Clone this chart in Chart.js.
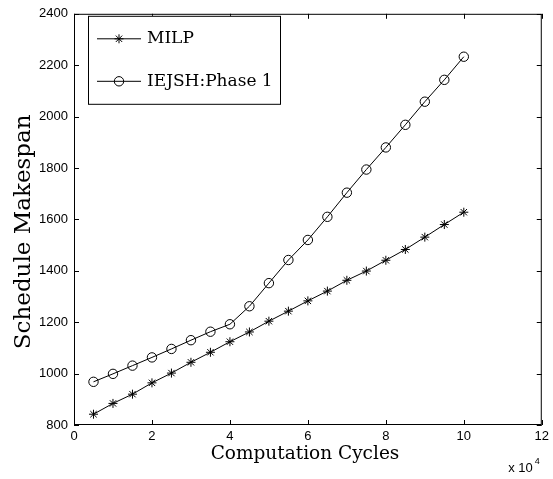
<!DOCTYPE html>
<html>
<head>
<meta charset="utf-8">
<title>Schedule Makespan vs Computation Cycles</title>
<script src="https://cdn.jsdelivr.net/npm/chart.js@4.4.0/dist/chart.umd.min.js"></script>
<style>
    html, body { margin: 0; padding: 0; background: #ffffff; }
    #wrap { width: 553px; height: 479px; }
</style>
</head>
<body>
<div id="wrap"><canvas id="chart" width="553" height="479"></canvas></div>
<script>
// Computation cycles, in units of 10^4
const cycles = [0.5, 1, 1.5, 2, 2.5, 3, 3.5, 4, 4.5, 5, 5.5, 6, 6.5, 7, 7.5, 8, 8.5, 9, 9.5, 10];
const milp = [842, 884, 920, 964, 1002, 1044, 1083, 1124, 1162, 1204, 1243, 1283, 1321, 1363, 1399, 1441, 1483, 1531, 1580, 1628];
const iejsh = [968, 999, 1031, 1063, 1096, 1130, 1163, 1192, 1262, 1352, 1442, 1520, 1610, 1704, 1794, 1880, 1968, 2058, 2143, 2233];
const xTicks = [0, 2, 4, 6, 8, 10, 12];
const yTicks = [800, 1000, 1200, 1400, 1600, 1800, 2000, 2200, 2400];

const SANS = '"Liberation Sans", Arial, sans-serif';
const SERIF = '"DejaVu Serif", serif';

function toPoints(xs, ys) {
    return xs.map((x, i) => ({ x: x, y: ys[i] }));
}

function drawMarker(ctx, style, radius, x, y) {
    ctx.fillStyle = 'rgba(0,0,0,0)';
    if (Chart.helpers && Chart.helpers.drawPoint) {
        Chart.helpers.drawPoint(ctx, { pointStyle: style, radius: radius, rotation: 0, borderWidth: 1 }, x, y);
        return;
    }
    ctx.beginPath();
    if (style === 'circle') {
        ctx.arc(x, y, radius, 0, Math.PI * 2);
    } else {
        for (let k = 0; k < 4; k++) {
            const a = k * Math.PI / 4;
            ctx.moveTo(x - Math.cos(a) * radius, y - Math.sin(a) * radius);
            ctx.lineTo(x + Math.cos(a) * radius, y + Math.sin(a) * radius);
        }
    }
    ctx.stroke();
}

// Box frame with inward ticks on all four sides, axis titles, legend and exponent label
const frameTicks = {
    id: 'frameTicks',
    afterDatasetsDraw(chart) {
        const { ctx, chartArea: a, scales: { x, y } } = chart;
        const len = 5;
        ctx.save();
        ctx.strokeStyle = '#000000';
        ctx.lineWidth = 1;
        ctx.strokeRect(a.left + 0.5, a.top + 0.5, a.right - a.left - 1, a.bottom - a.top - 1);

        ctx.beginPath();
        xTicks.forEach(v => {
            const px = Math.round(x.getPixelForValue(v)) + 0.5;
            ctx.moveTo(px, a.bottom);
            ctx.lineTo(px, a.bottom - len);
            ctx.moveTo(px, a.top);
            ctx.lineTo(px, a.top + len);
        });
        yTicks.forEach(v => {
            const py = Math.round(y.getPixelForValue(v)) + 0.5;
            ctx.moveTo(a.left, py);
            ctx.lineTo(a.left + len, py);
            ctx.moveTo(a.right, py);
            ctx.lineTo(a.right - len, py);
        });
        ctx.stroke();

        // axis titles
        ctx.fillStyle = '#000000';
        ctx.textAlign = 'center';
        ctx.textBaseline = 'middle';
        ctx.font = '18.5px ' + SERIF;
        ctx.fillText('Computation Cycles', a.left + 231, a.bottom + 29);
        ctx.save();
        ctx.translate(24, a.top + 218);
        ctx.rotate(-Math.PI / 2);
        ctx.font = '23px ' + SERIF;
        ctx.fillText('Schedule Makespan', 0, 0);
        ctx.restore();

        // exponent label under the x axis
        ctx.font = '13px ' + SANS;
        ctx.textAlign = 'right';
        ctx.fillText('x 10', a.right - 9, a.bottom + 43);
        ctx.font = '9px ' + SANS;
        ctx.textAlign = 'left';
        ctx.fillText('4', a.right - 7, a.bottom + 37);

        // legend
        const bx = a.left + 14, by = a.top + 2, bw = 192, bh = 88;
        ctx.fillStyle = '#ffffff';
        ctx.fillRect(bx, by, bw, bh);
        ctx.strokeRect(bx + 0.5, by + 0.5, bw, bh);
        chart.data.datasets.forEach((ds, i) => {
            const ly = by + 23 + i * 42.5;
            ctx.strokeStyle = '#000000';
            ctx.lineWidth = 1;
            ctx.beginPath();
            ctx.moveTo(bx + 9, ly);
            ctx.lineTo(bx + 53, ly);
            ctx.stroke();
            drawMarker(ctx, ds.pointStyle, ds.pointRadius, bx + 31, ly);
            ctx.fillStyle = '#000000';
            ctx.font = '17px ' + SERIF;
            ctx.textAlign = 'left';
            ctx.textBaseline = 'middle';
            ctx.fillText(ds.label, bx + 59, ly);
        });
        ctx.restore();
    }
};

const ctx = document.getElementById('chart').getContext('2d');
const chart = new Chart(ctx, {
    type: 'line',
    data: {
        datasets: [
            {
                label: 'MILP',
                data: toPoints(cycles, milp),
                borderColor: '#000000',
                borderWidth: 1,
                backgroundColor: 'rgba(0,0,0,0)',
                pointStyle: 'star',
                pointRadius: 4.5,
                pointBorderColor: '#000000',
                pointBorderWidth: 1,
                tension: 0,
                fill: false
            },
            {
                label: 'IEJSH:Phase 1',
                data: toPoints(cycles, iejsh),
                borderColor: '#000000',
                borderWidth: 1,
                backgroundColor: 'rgba(0,0,0,0)',
                pointStyle: 'circle',
                pointRadius: 4.7,
                pointBorderColor: '#000000',
                pointBorderWidth: 1,
                tension: 0,
                fill: false
            }
        ]
    },
    options: {
        responsive: false,
        animation: false,
        devicePixelRatio: 1,
        layout: { padding: { top: 10, right: 11, left: 0, bottom: 0 } },
        plugins: {
            legend: { display: false },
            tooltip: { enabled: false }
        },
        scales: {
            x: {
                type: 'linear',
                min: 0,
                max: 12,
                afterFit: (scale) => { scale.height = 54; },
                afterBuildTicks: (scale) => { scale.ticks = xTicks.map(v => ({ value: v })); },
                grid: { display: true, drawOnChartArea: false, drawTicks: false },
                border: { display: false },
                ticks: {
                    color: '#000000',
                    padding: 4,
                    maxRotation: 0,
                    font: { family: SANS, size: 13 },
                    callback: (v) => String(v)
                }
            },
            y: {
                type: 'linear',
                min: 800,
                max: 2400,
                afterFit: (scale) => { scale.width = 74; },
                afterBuildTicks: (scale) => { scale.ticks = yTicks.map(v => ({ value: v })); },
                grid: { display: true, drawOnChartArea: false, drawTicks: false },
                border: { display: false },
                ticks: {
                    color: '#000000',
                    padding: 6,
                    font: { family: SANS, size: 13 },
                    callback: (v) => String(v)
                }
            }
        }
    },
    plugins: [frameTicks]
});
</script>
</body>
</html>
